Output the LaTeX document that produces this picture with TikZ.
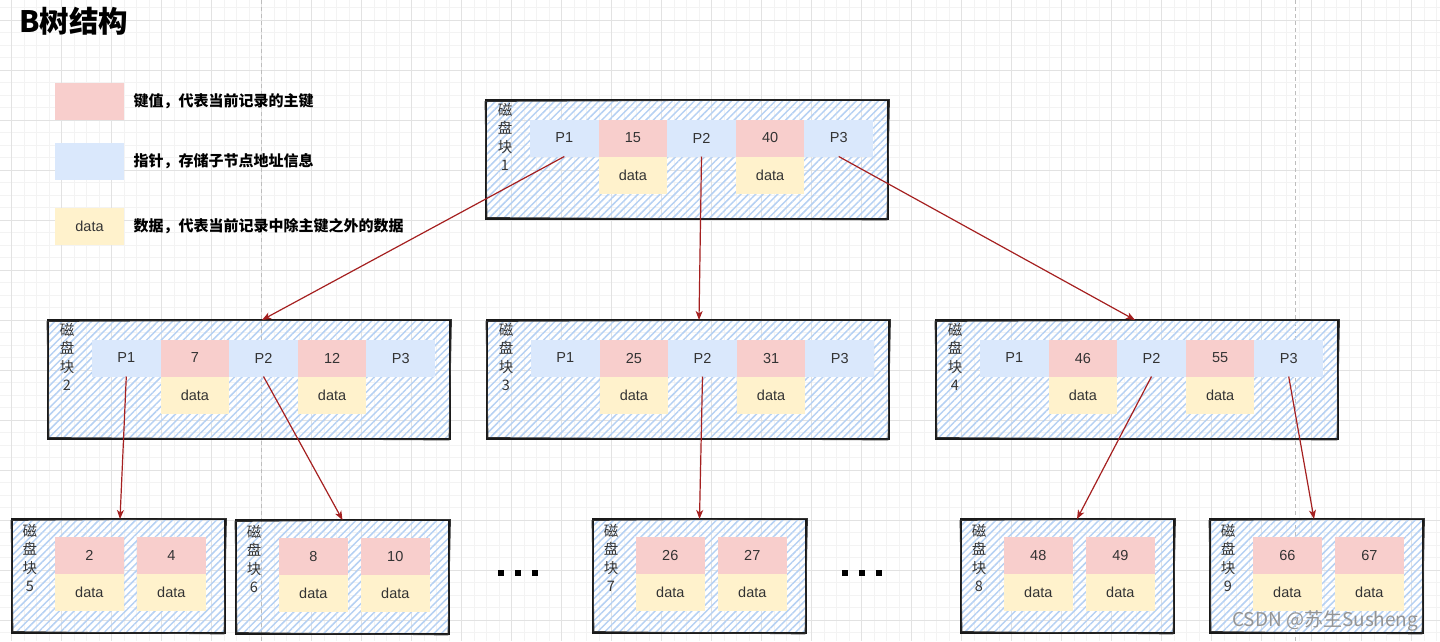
\documentclass[tikz,border=0pt]{standalone}
\usepackage{fontspec}
\setmainfont{Liberation Sans}
\newfontfamily\cjk{Noto Sans CJK SC}
\usetikzlibrary{arrows.meta,patterns.meta}
\definecolor{keyc}{HTML}{F8CECC}
\definecolor{ptrc}{HTML}{DAE8FC}
\definecolor{datc}{HTML}{FFF2CC}
\definecolor{hatch}{HTML}{B6D1F3}
\definecolor{arrc}{HTML}{A52020}
\definecolor{txt}{HTML}{333333}
\definecolor{gmaj}{HTML}{E2E2E2}
\definecolor{gmin}{HTML}{F3F3F3}
\definecolor{gdash}{HTML}{BDBDBD}
\tikzset{
 cell/.style={minimum width=68.6pt,minimum height=37pt,inner sep=0pt,outer sep=0pt,text=txt,font=\fontsize{14.5}{16}\selectfont},
 pcell/.style={cell,fill=ptrc},
 kcell/.style={cell,fill=keyc},
 dcell/.style={cell,fill=datc},
 blk/.style={draw=black!90,line width=1.9pt,pattern={Lines[angle=45,distance=5.2pt,line width=1.5pt]},pattern color=hatch,inner sep=0pt,outer sep=0pt},
 sketch/.style={draw=black!80,line width=0.8pt},
 lbl/.style={align=center,inner sep=0pt,text=txt,font=\cjk\fontsize{14.5}{18.5}\selectfont},
 legtxt/.style={inner sep=0pt,text=black,font=\cjk\bfseries\fontsize{15}{17}\selectfont},
 arr/.style={draw=arrc,line width=1.2pt,-{Stealth[length=9pt,width=7pt,inset=2.5pt]}},
 gridmin/.style={draw=gmin,line width=0.9pt},
 gridmaj/.style={draw=gmaj,line width=1pt},
 vdash/.style={draw=gdash,line width=1pt,dash pattern=on 4pt off 3pt},
 dot/.style={fill=black},
}
\newcommand\sketchbox[1]{%
 \draw[sketch] ([shift={(-1,1.5)}]#1.north west) -- ([shift={(1.5,-0.5)}]#1.north east)
   -- ([shift={(-1,1)}]#1.south east) -- ([shift={(1,-1.5)}]#1.south west) -- cycle;
}
\newcommand\bigblk[6]{%
 \node[blk,minimum width=402pt,minimum height=119pt,anchor=north west] (#1) at (#2,#3) {};
 \sketchbox{#1}
 \node[lbl,anchor=north] (#1l) at (#2+19,#3+3) {磁\\盘\\块\\#4};
 \node[pcell,anchor=north west] (#1p1) at (#2+44,#3+19.5) {P1};
 \node[kcell,anchor=west] (#1k1) at (#1p1.east) {#5};
 \node[pcell,anchor=west] (#1p2) at (#1k1.east) {P2};
 \node[kcell,anchor=west] (#1k2) at (#1p2.east) {#6};
 \node[pcell,anchor=west] (#1p3) at (#1k2.east) {P3};
 \node[dcell,anchor=north] (#1d1) at (#1k1.south) {data};
 \node[dcell,anchor=north] (#1d2) at (#1k2.south) {data};
}
\newcommand\leafblk[6]{%
 \node[blk,minimum width=213pt,minimum height=114pt,anchor=north west] (#1) at (#2,#3) {};
 \sketchbox{#1}
 \node[lbl,anchor=north] (#1l) at (#2+18,#3+5) {磁\\盘\\块\\#4};
 \node[kcell,anchor=north west] (#1k1) at (#2+43,#3+18) {#5};
 \node[kcell,anchor=north west] (#1k2) at (#2+125,#3+18) {#6};
 \node[dcell,anchor=north] (#1d1) at (#1k1.south) {data};
 \node[dcell,anchor=north] (#1d2) at (#1k2.south) {data};
}
\begin{document}
\begin{tikzpicture}[x=1pt,y=-1pt]
\useasboundingbox (0,0) rectangle (1440,641);
\begin{scope}
\clip (0,0) rectangle (1440,641);
\foreach \i in {0,...,116} \draw[gridmin] ({-0.8+12.5*\i},0) -- ++(0,641);
\foreach \i in {0,...,52} \draw[gridmin] (0,{7.5+12.5*\i}) -- ++(1440,0);
\foreach \i in {0,...,28} \draw[gridmaj] ({11.7+50*\i},0) -- ++(0,641);
\foreach \i in {0,...,12} \draw[gridmaj] (0,{20+50*\i}) -- ++(1440,0);
\draw[vdash] (261.7,0) -- (261.7,641);
\draw[vdash] (1295,0) -- (1295,641);
\end{scope}

\node[anchor=west,inner sep=0pt,font=\cjk\bfseries\fontsize{29.5}{31}\selectfont] (title) at (19,21) {B树结构};

\node[kcell,minimum width=69pt,anchor=north west] (lk) at (55,83) {};
\node[pcell,minimum width=69pt,anchor=north west] (lp) at (55,142.5) {};
\node[dcell,minimum width=69pt,anchor=north west] (ld) at (55,208) {data};
\node[legtxt,anchor=west] (lkt) at (133.5,101.5) {键值，代表当前记录的主键};
\node[legtxt,anchor=west] (lpt) at (133.5,161) {指针，存储子节点地址信息};
\node[legtxt,anchor=west] (ldt) at (133.5,226.5) {数据，代表当前记录中除主键之外的数据};

\bigblk{b1}{486}{100}{1}{15}{40}
\bigblk{b2}{48}{320}{2}{7}{12}
\bigblk{b3}{487}{320}{3}{25}{31}
\bigblk{b4}{936}{320}{4}{46}{55}

\leafblk{b5}{12}{519}{5}{2}{4}
\leafblk{b6}{236}{520}{6}{8}{10}
\leafblk{b7}{593}{519}{7}{26}{27}
\leafblk{b8}{961}{519}{8}{48}{49}
\leafblk{b9}{1210}{519}{9}{66}{67}

\fill[dot] (498,570) rectangle ++(6,6);
\fill[dot] (515,570) rectangle ++(6,6);
\fill[dot] (532,570) rectangle ++(6,6);
\fill[dot] (842,570) rectangle ++(6,6);
\fill[dot] (859,570) rectangle ++(6,6);
\fill[dot] (876,570) rectangle ++(6,6);

\draw[arr] (b1p1.south) -- ([xshift=13pt]b2.north);
\draw[arr] (b1p2.south) -- ([xshift=11pt]b3.north);
\draw[arr] (b1p3.south) -- ([xshift=-2pt]b4.north);
\draw[arr] (b2p1.south) -- ([xshift=1.5pt]b5.north);
\draw[arr] (b2p2.south) -- (b6.north);
\draw[arr] (b3p2.south) -- (b7.north);
\draw[arr] (b4p2.south) -- ([xshift=9.5pt]b8.north);
\draw[arr] (b4p3.south) -- ([xshift=-2.5pt]b9.north);

\node[anchor=west,inner sep=0pt,text=black!42,font=\cjk\fontsize{19}{21}\selectfont] (wm) at (1232,621) {CSDN @苏生Susheng};
\end{tikzpicture}
\end{document}
